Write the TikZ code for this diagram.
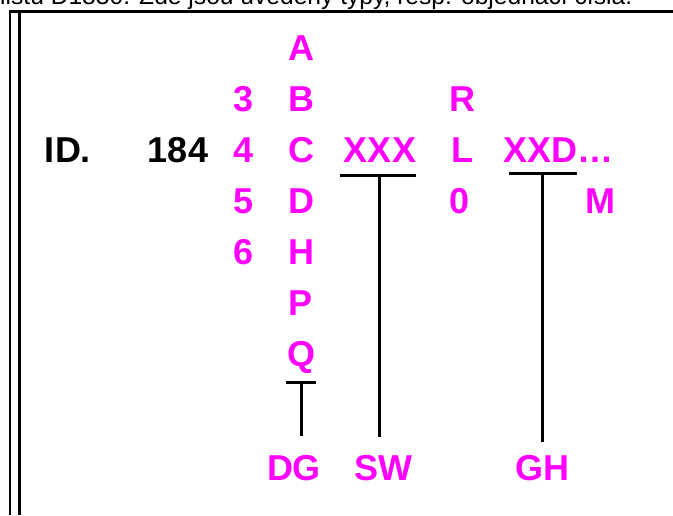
\documentclass[tikz,border=0pt]{standalone}
\usepackage{fontspec}
\setmainfont{Liberation Sans}
\definecolor{mag}{RGB}{255,0,255}
\begin{document}
\begin{tikzpicture}[x=1pt,y=-1pt,
  lab/.style={font=\fontsize{36}{40}\selectfont\bfseries, inner sep=0pt, text height=26pt, text depth=0pt},
  pk/.style={lab, text=mag},
  bk/.style={lab, text=black},
  bar/.style={line width=3pt, black},
  frame/.style={black}]
\useasboundingbox (0,0) rectangle (673,515);
\begin{scope}
\clip (0,0) rectangle (673,515);
\node[anchor=base west, inner sep=0pt] (top) at (0,4) {\resizebox{632pt}{!}{\fontsize{18}{20}\selectfont listu D1830. Zde jsou uvedeny typy, resp. objednací čísla.}};
\end{scope}
% frame
\coordinate (ftl) at (9,11);
\coordinate (ftr) at (673,11);
\draw[frame, line width=3pt] (ftl) -- (ftr);
\draw[frame, line width=2pt] (10,10) -- (10,515);
\draw[frame, line width=3pt] (19.5,11) -- (19.5,515);
% labels
\node[bk] (id) at (68,149) {ID.};
\node[bk] (n184) at (178,149) {184};
\node[pk] (n3) at (244,98) {3};
\node[pk] (n4) at (244,149) {4};
\node[pk] (n5) at (244,200) {5};
\node[pk] (n6) at (244,251) {6};
\node[pk] (A) at (301,47) {A};
\node[pk] (B) at (301,98) {B};
\node[pk] (C) at (301,149) {C};
\node[pk] (D) at (301,200) {D};
\node[pk] (H) at (301,251) {H};
\node[pk] (P) at (301,302) {P};
\node[pk] (Q) at (301,353) {Q};
\node[pk] (XXX) at (380,149) {XXX};
\node[pk] (R) at (462,98) {R};
\node[pk] (L) at (462,149) {L};
\node[pk] (Z) at (460,200) {0};
\node[pk, anchor=west] (XXD) at (503,149) {XXD…};
\node[pk] (M) at (600,200) {M};
\node[pk] (DG) at (294,467) {DG};
\node[pk] (SW) at (383,467) {SW};
\node[pk] (GH) at (542,467) {GH};
% T connectors
\coordinate (q1) at (286,382); \coordinate (q2) at (316,382);
\coordinate (qm) at (301,382); \coordinate (qe) at (301,436);
\draw[bar] (q1) -- (q2);
\draw[bar] (qm) -- (qe);
\coordinate (x1) at (340,175); \coordinate (x2) at (416,175);
\coordinate (xm) at (379,175); \coordinate (xe) at (379,437);
\draw[bar] (x1) -- (x2);
\draw[bar] (xm) -- (xe);
\coordinate (d1) at (509,173); \coordinate (d2) at (577,173);
\coordinate (dm) at (542,173); \coordinate (de) at (542,442);
\draw[bar] (d1) -- (d2);
\draw[bar] (dm) -- (de);
\end{tikzpicture}
\end{document}
